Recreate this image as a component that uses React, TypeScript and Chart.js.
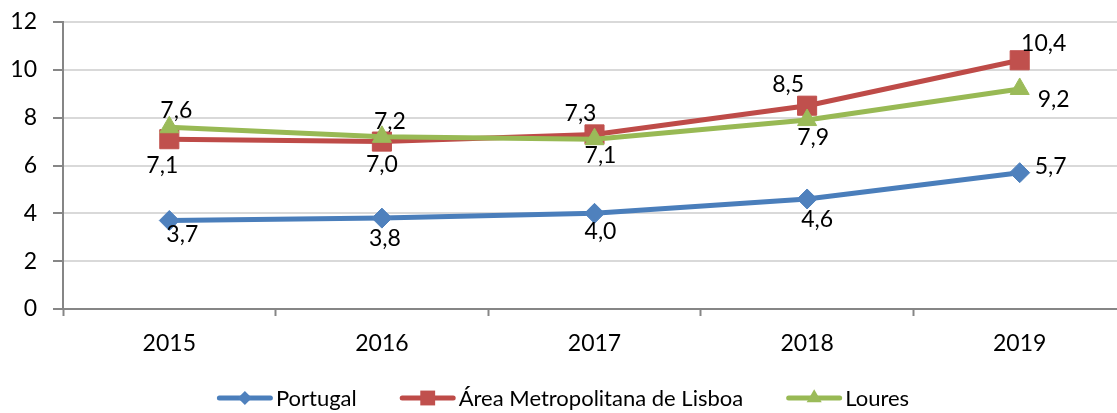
import { useEffect, useRef } from 'react';
import { Chart, registerables } from 'chart.js';

Chart.register(...registerables);

// ---------- data ----------
const categories = ['2015', '2016', '2017', '2018', '2019'];
const seriesNames = ['Portugal', 'Área Metropolitana de Lisboa', 'Loures'];
const portugal = [3.7, 3.8, 4.0, 4.6, 5.7];
const lisboa = [7.1, 7.0, 7.3, 8.5, 10.4];
const loures = [7.6, 7.2, 7.1, 7.9, 9.2];
const yMin = 0;
const yMax = 12;
const yStep = 2;

// ---------- styles ----------
const FONT = 'Lato';
const lineColors = ['#4A7EBB', '#BE4B48', '#98B954'];
const markerColors = ['#4F81BD', '#C0504D', '#9BBB59'];
const markerStyles = ['rectRot', 'rect', 'triangle'];
const markerRadius = [10, 13.5, 11];
const legendMarkerRadius = [7, 10.5, 8.7];
// data-label offsets (dx, dy) from each point, in px
const labelOffsets = [
  [[13, 14], [3, 20], [6, 18], [10, 21], [31, -6]],
  [[-7, 26], [0, 23], [-14, -21], [-19, -21], [24, -17]],
  [[7, -17], [8, -15], [6, 16], [6, 18], [34, 11]],
];
const LEGEND_CENTER_X = 563;
const LEGEND_Y = 398;

const fmt = (v: number) => v.toFixed(1).replace('.', ',');

function drawMarker(ctx: CanvasRenderingContext2D, style: string, x: number, y: number, r: number) {
  ctx.beginPath();
  if (style === 'rectRot') {
    ctx.moveTo(x - r, y);
    ctx.lineTo(x, y - r);
    ctx.lineTo(x + r, y);
    ctx.lineTo(x, y + r);
  } else if (style === 'rect') {
    const s = r * Math.SQRT1_2;
    ctx.rect(x - s, y - s, 2 * s, 2 * s);
  } else {
    ctx.moveTo(x, y - r);
    ctx.lineTo(x + r * Math.sin((2 * Math.PI) / 3), y + r / 2);
    ctx.lineTo(x - r * Math.sin((2 * Math.PI) / 3), y + r / 2);
  }
  ctx.closePath();
  ctx.fill();
}

const valueLabels = {
  id: 'valueLabels',
  afterDatasetsDraw(chart: any) {
    const ctx = chart.ctx as CanvasRenderingContext2D;
    ctx.save();
    ctx.font = `23px ${FONT}`;
    ctx.fillStyle = '#000';
    ctx.textAlign = 'center';
    ctx.textBaseline = 'middle';
    chart.data.datasets.forEach((ds: any, i: number) => {
      const meta = chart.getDatasetMeta(i);
      meta.data.forEach((pt: any, j: number) => {
        const [dx, dy] = labelOffsets[i][j];
        ctx.fillText(fmt(ds.data[j]), pt.x + dx, pt.y + dy);
      });
    });
    ctx.restore();
  },
};

const lineLegend = {
  id: 'lineLegend',
  afterDraw(chart: any) {
    const ctx = chart.ctx as CanvasRenderingContext2D;
    ctx.save();
    ctx.font = `22px ${FONT}`;
    ctx.textBaseline = 'middle';
    ctx.textAlign = 'left';
    const lineW = 56;
    const gapText = 3;
    const gapItem = 43;
    const items = chart.data.datasets.map((ds: any) => ({ ds, w: ctx.measureText(ds.label).width }));
    const total =
      items.reduce((s: number, it: any) => s + lineW + gapText + it.w, 0) + gapItem * (items.length - 1);
    let x = LEGEND_CENTER_X - total / 2;
    items.forEach((it: any, i: number) => {
      ctx.strokeStyle = lineColors[i];
      ctx.lineWidth = 5;
      ctx.lineCap = 'round';
      ctx.beginPath();
      ctx.moveTo(x + 2.5, LEGEND_Y);
      ctx.lineTo(x + lineW - 2.5, LEGEND_Y);
      ctx.stroke();
      ctx.fillStyle = markerColors[i];
      drawMarker(ctx, markerStyles[i], x + lineW / 2, LEGEND_Y, legendMarkerRadius[i]);
      ctx.fillStyle = '#000';
      ctx.fillText(it.ds.label, x + lineW + gapText, LEGEND_Y + 1);
      x += lineW + gapText + it.w + gapItem;
    });
    ctx.restore();
  },
};

export default function App() {
  const ref = useRef<HTMLCanvasElement>(null);

  useEffect(() => {
    if (!ref.current) return;
    Chart.defaults.font.family = FONT;
    const seriesData = [portugal, lisboa, loures];
    const chart = new Chart(ref.current, {
      type: 'line',
      data: {
        labels: categories,
        datasets: seriesData.map((d, i) => ({
          label: seriesNames[i],
          data: d,
          borderColor: lineColors[i],
          backgroundColor: markerColors[i],
          borderWidth: 5,
          pointStyle: markerStyles[i] as any,
          pointRadius: markerRadius[i],
          pointHoverRadius: markerRadius[i],
          pointBackgroundColor: markerColors[i],
          pointBorderColor: markerColors[i],
          pointBorderWidth: 1,
          tension: 0,
          clip: false as any,
          order: 3 - i,
        })),
      },
      options: {
        responsive: false,
        animation: false,
        layout: { autoPadding: false, padding: { top: 22, bottom: 56, left: 0, right: 0 } },
        plugins: {
          legend: { display: false },
          tooltip: { enabled: false },
        },
        scales: {
          x: {
            offset: true,
            grid: {
              offset: true,
              drawOnChartArea: false,
              drawTicks: true,
              tickLength: 7,
              tickColor: '#868686',
              tickWidth: 2,
            },
            border: { color: '#868686', width: 2 },
            ticks: { color: '#000', font: { size: 23, family: FONT }, padding: 14 },
            afterFit: (s: any) => {
              s.height = 48;
              s.paddingLeft = 0;
              s.paddingRight = 0;
            },
          },
          y: {
            min: yMin,
            max: yMax,
            ticks: {
              stepSize: yStep,
              color: '#000',
              font: { size: 23, family: FONT },
              padding: 16,
            },
            grid: {
              color: '#d9d9d9',
              lineWidth: 2,
              tickLength: 10,
              tickColor: '#868686',
              tickWidth: 2,
            },
            border: { color: '#868686', width: 2 },
            afterFit: (s: any) => {
              s.width = 63;
              s.paddingTop = 0;
              s.paddingBottom = 0;
            },
          },
        },
      },
      plugins: [valueLabels, lineLegend],
    });
    return () => chart.destroy();
  }, []);

  return (
    <div
      style={{
        position: 'fixed',
        left: 0,
        top: 0,
        width: 1117,
        height: 413,
        overflow: 'hidden',
        background: '#fff',
      }}
    >
      <canvas ref={ref} width={1126} height={413} style={{ display: 'block' }} />
    </div>
  );
}
